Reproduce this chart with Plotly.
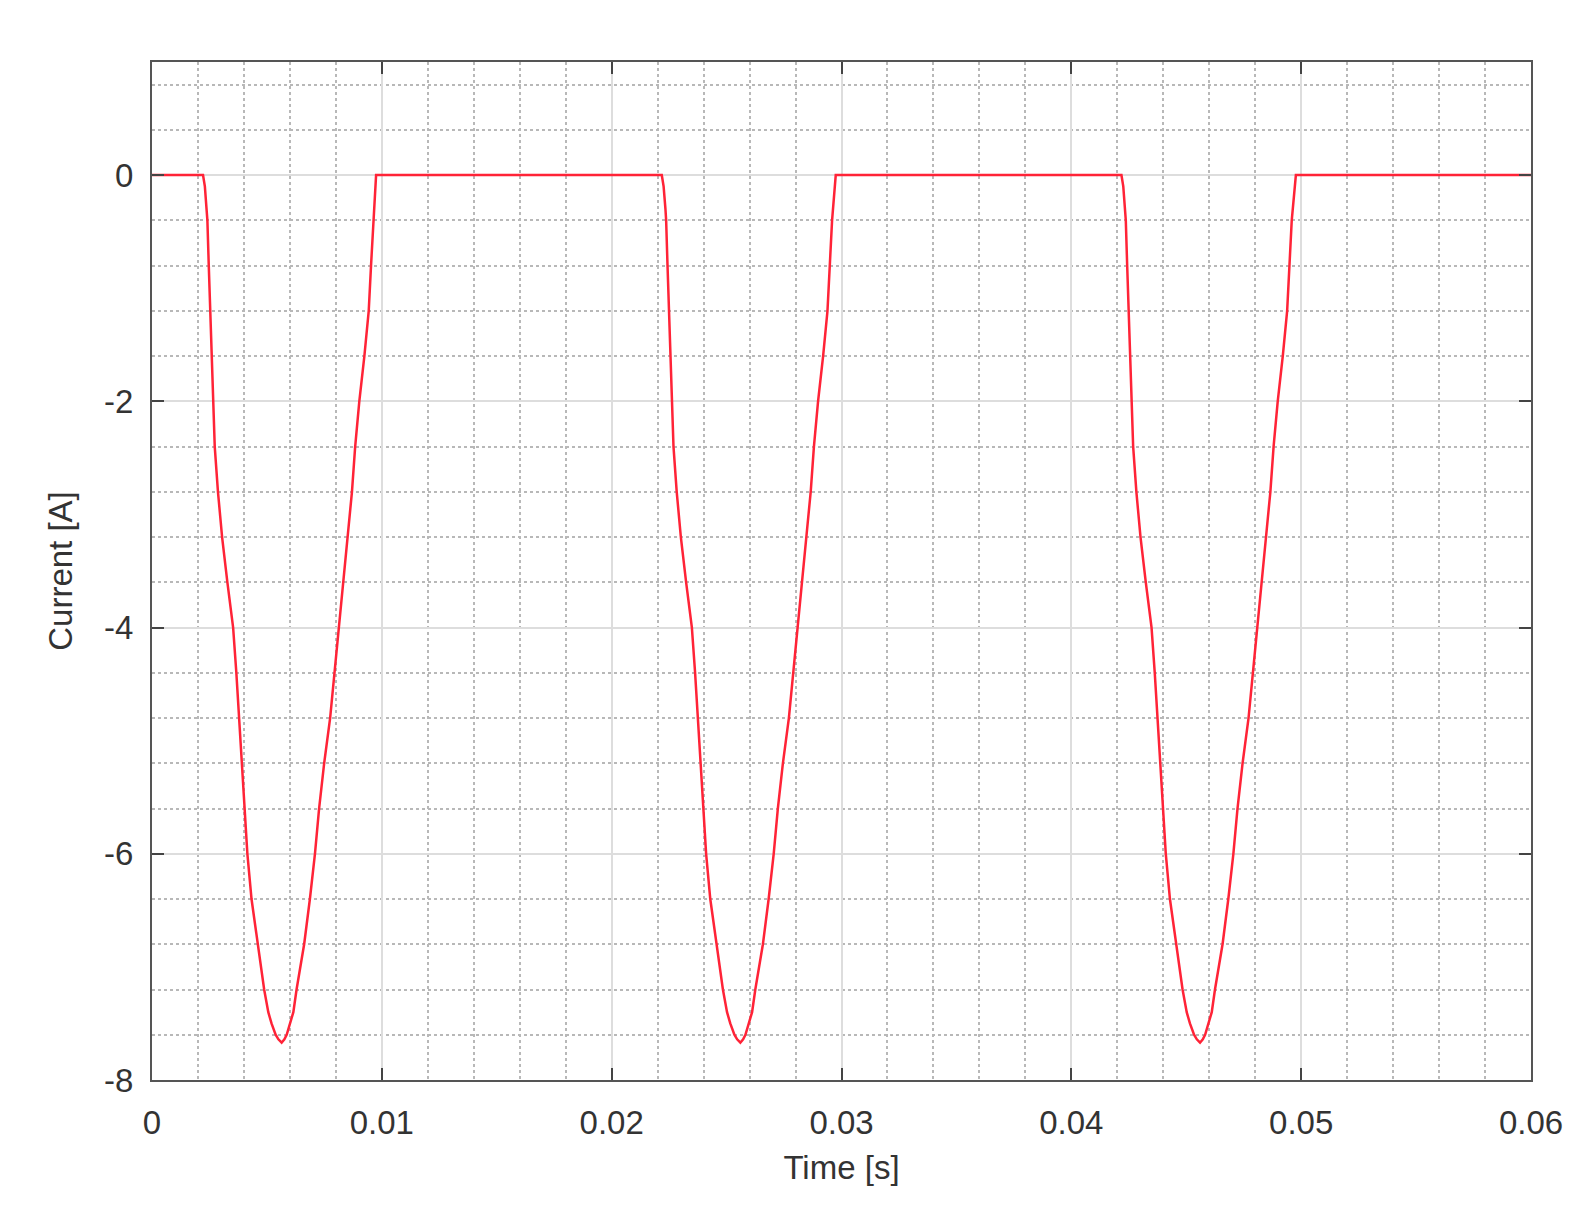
import plotly.graph_objects as go

# ---- data ----
time_pulse1_s = [0.00222, 0.00230, 0.00238, 0.00241, 0.00247, 0.00254, 0.00258, 0.00265, 0.00273, 0.00287,
                 0.00305, 0.00328, 0.00353, 0.00367, 0.00379, 0.00389, 0.00400, 0.00415, 0.00433, 0.00459,
                 0.00488, 0.00506, 0.00520, 0.00538, 0.00550, 0.00564, 0.00576, 0.00586, 0.00600, 0.00615,
                 0.00629, 0.00662, 0.00687, 0.00709, 0.00727, 0.00749, 0.00775, 0.00794, 0.00814, 0.00832,
                 0.00851, 0.00870, 0.00884, 0.00902, 0.00924, 0.00943, 0.00953, 0.00963, 0.00975]
time_pulse2_s = [0.02218, 0.02226, 0.02234, 0.02237, 0.02243, 0.02250, 0.02254, 0.02261, 0.02269, 0.02283,
                 0.02301, 0.02324, 0.02349, 0.02363, 0.02375, 0.02385, 0.02396, 0.02411, 0.02429, 0.02455,
                 0.02484, 0.02502, 0.02516, 0.02534, 0.02546, 0.02560, 0.02572, 0.02582, 0.02596, 0.02611,
                 0.02625, 0.02658, 0.02683, 0.02705, 0.02723, 0.02745, 0.02771, 0.02790, 0.02810, 0.02828,
                 0.02847, 0.02866, 0.02880, 0.02898, 0.02920, 0.02939, 0.02949, 0.02959, 0.02975]
time_pulse3_s = [0.04218, 0.04226, 0.04234, 0.04237, 0.04243, 0.04250, 0.04254, 0.04261, 0.04269, 0.04283,
                 0.04301, 0.04324, 0.04349, 0.04363, 0.04375, 0.04385, 0.04396, 0.04411, 0.04429, 0.04455,
                 0.04484, 0.04502, 0.04516, 0.04534, 0.04546, 0.04560, 0.04572, 0.04582, 0.04596, 0.04611,
                 0.04625, 0.04658, 0.04683, 0.04705, 0.04723, 0.04745, 0.04771, 0.04790, 0.04810, 0.04828,
                 0.04847, 0.04866, 0.04880, 0.04898, 0.04920, 0.04939, 0.04949, 0.04959, 0.04977]
current_pulse_A = [0, -0.1, -0.3, -0.4, -0.8, -1.2, -1.6, -2.0, -2.4, -2.8,
                   -3.2, -3.6, -4.0, -4.4, -4.8, -5.2, -5.6, -6.0, -6.4, -6.8,
                   -7.2, -7.4, -7.5, -7.6, -7.64, -7.67, -7.64, -7.6, -7.5, -7.4,
                   -7.2, -6.8, -6.4, -6.0, -5.6, -5.2, -4.8, -4.4, -4.0, -3.6,
                   -3.2, -2.8, -2.4, -2.0, -1.6, -1.2, -0.8, -0.4, 0]
time_start_end_s = [0.0, 0.06]
current_start_end_A = [0, 0]

x_ticks = [0, 0.01, 0.02, 0.03, 0.04, 0.05, 0.06]
x_ticktext = ["0", "0.01", "0.02", "0.03", "0.04", "0.05", "0.06"]
y_ticks = [-8, -6, -4, -2, 0]
y_ticktext = ["-8", "-6", "-4", "-2", "0"]

time_s = [time_start_end_s[0]] + time_pulse1_s + time_pulse2_s + time_pulse3_s + [time_start_end_s[1]]
current_A = [current_start_end_A[0]] + current_pulse_A * 3 + [current_start_end_A[1]]

fig = go.Figure()
fig.add_trace(go.Scatter(x=time_s, y=current_A, mode="lines",
                         line=dict(color="rgb(255,35,55)", width=2.5),
                         showlegend=False))

font_fam = "Liberation Sans, Arial, sans-serif"
axis_common = dict(
    showline=True, linecolor="#555555", linewidth=2, mirror="ticks",
    ticks="inside", ticklen=12, tickwidth=2, tickcolor="#444444",
    showgrid=True, gridcolor="#dddddd", gridwidth=2,
    zeroline=False,
    tickfont=dict(family=font_fam, size=33, color="#333333"),
)

fig.update_xaxes(
    range=[0, 0.06], tickmode="array", tickvals=x_ticks, ticktext=x_ticktext,
    ticklabelstandoff=12,
    title=dict(text="Time [s]", font=dict(family=font_fam, size=33, color="#333333"), standoff=16),
    minor=dict(tick0=0, dtick=0.002, showgrid=True, griddash="dot", gridcolor="#b8b8b8", gridwidth=1.5, ticks=""),
    **axis_common,
)
fig.update_yaxes(
    range=[-8, 1], tickmode="array", tickvals=y_ticks, ticktext=y_ticktext,
    ticklabelstandoff=10,
    title=dict(text="Current [A]", font=dict(family=font_fam, size=33, color="#333333"), standoff=22),
    minor=dict(tick0=0, dtick=0.4, showgrid=True, griddash="dot", gridcolor="#b8b8b8", gridwidth=1.5, ticks=""),
    **axis_common,
)

fig.update_layout(
    width=1588, height=1210,
    margin=dict(l=144, r=65, t=54, b=138, autoexpand=False),
    paper_bgcolor="white", plot_bgcolor="white",
    font=dict(family=font_fam, color="#333333"),
)

fig.write_html("out.html")
